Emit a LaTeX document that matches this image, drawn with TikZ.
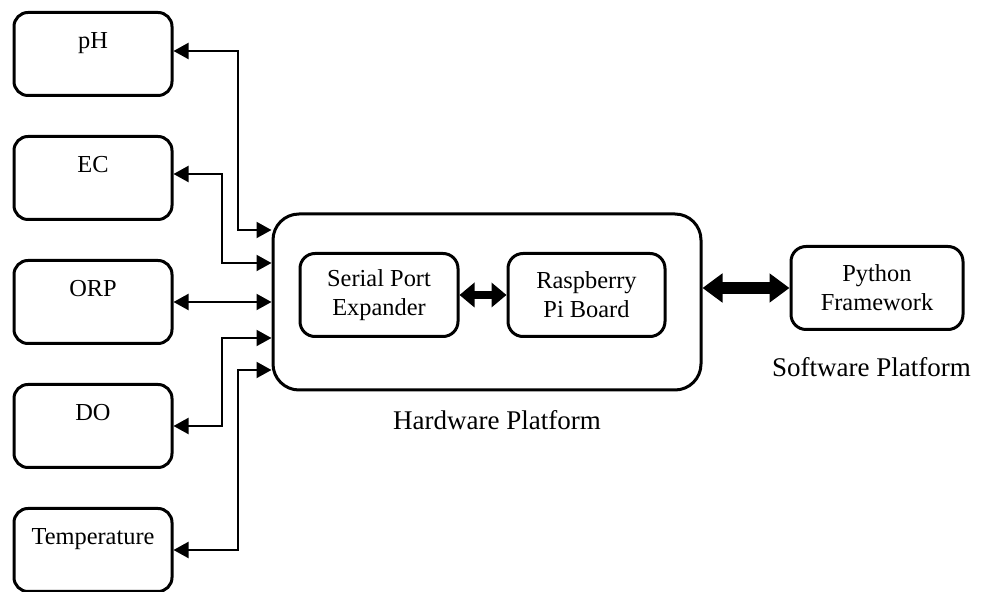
\documentclass[tikz,border=0pt]{standalone}
\usepackage{fontspec}
\setmainfont{Liberation Serif}
\usetikzlibrary{arrows.meta}

\begin{document}
\begin{tikzpicture}[
            > = {Triangle[length=7.5pt,width=8pt]}, % arrow head style
            line width = 1pt, % line style
            node font = \fontsize{12.2}{14.5}\selectfont,
            sensor/.style = {draw, line width=1.5pt, rounded corners=7pt,
                minimum width=79pt, minimum height=41.5pt,
                text height=9pt, text depth=14.4pt},
            unit/.style = {draw, line width=1.5pt, rounded corners=7.5pt,
                minimum width=79pt, minimum height=41.5pt, align=center},
            platform/.style = {draw, line width=1.5pt, rounded corners=13pt,
                minimum width=214pt, minimum height=88pt},
            caption/.style = {font=\fontsize{13.5}{16}\selectfont},
            fat/.style = {line width=4pt,
                arrows={Triangle[length=7.5pt,width=12pt]-Triangle[length=7.5pt,width=12pt]}},
            fatter/.style = {line width=6pt,
                arrows={Triangle[length=10pt,width=14pt]-Triangle[length=10pt,width=14pt]}},
            node distance = 62pt % distance between sensors
        ]

	\useasboundingbox (0,0) rectangle (493pt,-296pt);

	\node[sensor] (PH) at (46.5pt,-27pt) {pH};
	\node[sensor] (EC) [below of=PH] {EC};
	\node[sensor] (ORP) [below of=EC] {ORP};
	\node[sensor] (DO) [below of=ORP] {DO};
	\node[sensor] (T) [below of=DO] {Temperature};

	\node[platform] (HW) [right of=ORP, node distance=197pt] {};
	\node[unit] (SPE) [left of=HW, node distance=54pt, yshift=3.5pt] {Serial Port\\Expander};
	\node[unit, minimum width=78.5pt] (RPI) [right of=SPE, node distance=103.75pt] {Raspberry\\Pi Board};
	\node[unit, minimum width=86pt] (PY) [right of=RPI, node distance=145.25pt, yshift=3.5pt] {Python\\Framework};

	\node[caption] (HWL) [below of=HW, node distance=59pt, xshift=5pt] {Hardware Platform};
	\node[caption] (SWL) [below of=PY, node distance=39.5pt, xshift=-2.75pt] {Software Platform};

	\draw[<->] ([yshift=1.5pt]PH.east) -- ++(32pt,0) |- ([yshift=36pt]HW.west);
	\draw[<->] ([yshift=2pt]EC.east) -- ++(24pt,0) |- ([yshift=19.5pt]HW.west);
	\draw[<->] (ORP) -- (HW);
	\draw[<->] (DO.east) -- ++(24pt,0) |- ([yshift=-18pt]HW.west);
	\draw[<->] (T.east) -- ++(32pt,0) |- ([yshift=-34pt]HW.west);

	\draw[fat] (SPE) -- (RPI);
	\draw[fatter] (HW.east |- PY.west) -- (PY.west);
\end{tikzpicture}
\end{document}
